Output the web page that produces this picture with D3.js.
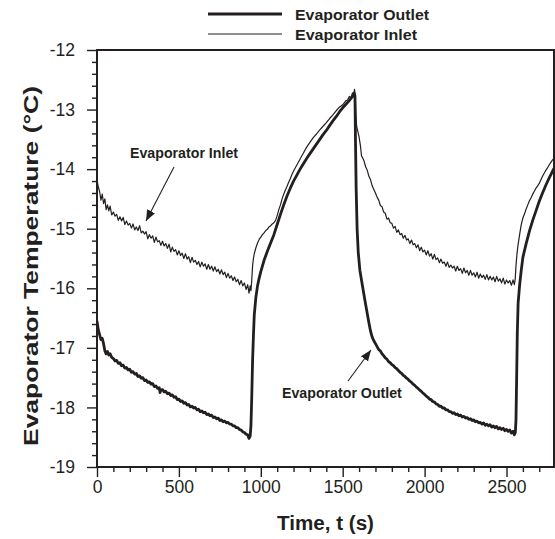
<!DOCTYPE html>
<html><head><meta charset="utf-8">
<script src="https://cdn.jsdelivr.net/npm/d3@7"></script>
<style>
html,body{margin:0;padding:0;background:#fff;}
svg{display:block;font-family:"Liberation Sans",Arial,sans-serif;}
</style></head>
<body><svg id="c" width="555" height="539"></svg>
<script>
const xTicks = [0,500,1000,1500,2000,2500];
const yTicks = [-12,-13,-14,-15,-16,-17,-18,-19];
const seriesNames = ["Evaporator Outlet","Evaporator Inlet"];

const inletPoints = [[0,-14.18],[8,-14.30],[16,-14.38],[24,-14.52],[32,-14.42],[40,-14.58],[48,-14.50],[56,-14.68],[64,-14.60],[72,-14.70],[80,-14.62],[90,-14.77],[100,-14.72],[110,-14.79],[120,-14.76],[130,-14.86],[140,-14.80],[150,-14.87],[160,-14.81],[170,-14.93],[180,-14.87],[190,-14.94],[200,-14.91],[210,-14.99],[220,-14.92],[230,-15.02],[240,-14.97],[250,-15.03],[260,-14.95],[270,-15.07],[280,-15.04],[290,-15.09],[300,-15.05],[310,-15.17],[320,-15.10],[330,-15.16],[340,-15.12],[350,-15.23],[360,-15.14],[370,-15.22],[380,-15.20],[390,-15.28],[400,-15.21],[410,-15.29],[420,-15.25],[430,-15.33],[440,-15.26],[450,-15.39],[460,-15.31],[470,-15.38],[480,-15.35],[490,-15.44],[500,-15.37],[510,-15.45],[520,-15.41],[530,-15.50],[540,-15.42],[550,-15.51],[560,-15.47],[570,-15.57],[580,-15.48],[590,-15.56],[600,-15.53],[610,-15.60],[620,-15.55],[630,-15.64],[640,-15.56],[650,-15.63],[660,-15.59],[670,-15.68],[680,-15.60],[690,-15.68],[700,-15.63],[710,-15.71],[720,-15.64],[730,-15.72],[740,-15.68],[750,-15.76],[760,-15.69],[770,-15.77],[780,-15.73],[790,-15.82],[800,-15.75],[810,-15.83],[820,-15.79],[830,-15.87],[840,-15.81],[850,-15.89],[860,-15.85],[870,-15.94],[880,-15.87],[890,-15.96],[900,-15.91],[910,-16.02],[920,-15.94],[928,-16.08],[935,-15.96],[940,-16.04],[945,-15.85],[950,-15.62],[955,-15.50],[960,-15.42],[970,-15.32],[980,-15.24],[990,-15.18],[1000,-15.14],[1010,-15.10],[1020,-15.07],[1030,-15.03],[1040,-15.01],[1050,-14.97],[1060,-14.95],[1070,-14.92],[1080,-14.90],[1090,-14.86],[1100,-14.78],[1110,-14.68],[1120,-14.60],[1130,-14.50],[1140,-14.42],[1150,-14.35],[1160,-14.29],[1170,-14.22],[1180,-14.16],[1190,-14.09],[1200,-14.03],[1220,-13.93],[1240,-13.83],[1260,-13.73],[1280,-13.63],[1300,-13.55],[1320,-13.47],[1340,-13.41],[1360,-13.34],[1380,-13.28],[1400,-13.22],[1420,-13.15],[1440,-13.09],[1460,-13.02],[1480,-12.96],[1500,-12.92],[1520,-12.85],[1530,-12.84],[1540,-12.78],[1550,-12.80],[1560,-12.72],[1566,-12.76],[1572,-12.66],[1576,-12.74],[1580,-13.05],[1585,-13.28],[1592,-13.36],[1600,-13.46],[1608,-13.60],[1615,-13.78],[1620,-13.80],[1630,-13.86],[1640,-13.96],[1650,-14.02],[1660,-14.12],[1670,-14.18],[1680,-14.28],[1690,-14.34],[1700,-14.40],[1710,-14.47],[1720,-14.52],[1730,-14.61],[1740,-14.63],[1750,-14.72],[1760,-14.74],[1770,-14.84],[1780,-14.82],[1790,-14.90],[1800,-14.91],[1810,-14.99],[1820,-14.96],[1830,-15.06],[1840,-15.02],[1850,-15.10],[1860,-15.08],[1870,-15.16],[1880,-15.11],[1890,-15.19],[1900,-15.17],[1910,-15.25],[1920,-15.19],[1930,-15.27],[1940,-15.25],[1950,-15.32],[1960,-15.27],[1970,-15.37],[1980,-15.31],[1990,-15.39],[2000,-15.36],[2010,-15.44],[2020,-15.37],[2030,-15.46],[2040,-15.42],[2050,-15.51],[2060,-15.43],[2070,-15.52],[2080,-15.49],[2090,-15.57],[2100,-15.51],[2110,-15.58],[2120,-15.56],[2130,-15.63],[2140,-15.56],[2150,-15.65],[2160,-15.61],[2170,-15.66],[2180,-15.63],[2190,-15.71],[2200,-15.63],[2210,-15.70],[2220,-15.67],[2230,-15.75],[2240,-15.66],[2250,-15.74],[2260,-15.70],[2270,-15.78],[2280,-15.70],[2290,-15.78],[2300,-15.74],[2310,-15.81],[2320,-15.73],[2330,-15.83],[2340,-15.76],[2350,-15.82],[2360,-15.78],[2370,-15.85],[2380,-15.77],[2390,-15.86],[2400,-15.80],[2410,-15.86],[2420,-15.81],[2430,-15.89],[2440,-15.80],[2450,-15.88],[2460,-15.84],[2470,-15.91],[2480,-15.83],[2490,-15.93],[2500,-15.86],[2510,-15.91],[2520,-15.87],[2530,-15.95],[2540,-15.86],[2548,-15.94],[2553,-15.85],[2558,-15.62],[2564,-15.42],[2570,-15.28],[2580,-15.10],[2590,-14.93],[2600,-14.82],[2610,-14.75],[2620,-14.67],[2630,-14.60],[2640,-14.53],[2650,-14.48],[2660,-14.42],[2670,-14.37],[2680,-14.32],[2690,-14.28],[2700,-14.24],[2710,-14.18],[2720,-14.12],[2730,-14.07],[2740,-14.02],[2750,-13.98],[2760,-13.93],[2770,-13.89],[2780,-13.85],[2790,-13.82]];

const outletPoints = [[0,-16.55],[8,-16.70],[16,-16.78],[24,-16.86],[32,-16.84],[40,-16.93],[48,-17.05],[56,-17.10],[64,-17.06],[72,-17.12],[80,-17.10],[90,-17.16],[100,-17.18],[110,-17.22],[120,-17.21],[130,-17.26],[140,-17.25],[150,-17.30],[160,-17.29],[170,-17.34],[180,-17.33],[190,-17.37],[200,-17.36],[210,-17.41],[220,-17.40],[230,-17.44],[240,-17.43],[250,-17.48],[260,-17.47],[270,-17.51],[280,-17.50],[290,-17.55],[300,-17.54],[310,-17.58],[320,-17.57],[330,-17.61],[340,-17.60],[350,-17.65],[360,-17.64],[370,-17.68],[380,-17.67],[385,-17.75],[390,-17.71],[400,-17.70],[410,-17.74],[420,-17.73],[430,-17.77],[440,-17.76],[450,-17.80],[460,-17.79],[470,-17.83],[480,-17.82],[490,-17.87],[500,-17.86],[510,-17.90],[520,-17.89],[530,-17.93],[540,-17.92],[550,-17.96],[560,-17.95],[570,-17.99],[580,-17.98],[590,-18.01],[600,-18.00],[610,-18.04],[620,-18.03],[630,-18.07],[640,-18.06],[650,-18.09],[660,-18.08],[670,-18.12],[680,-18.11],[690,-18.14],[700,-18.13],[710,-18.17],[720,-18.16],[730,-18.19],[740,-18.18],[750,-18.22],[760,-18.21],[770,-18.24],[780,-18.23],[790,-18.26],[800,-18.25],[810,-18.28],[820,-18.28],[830,-18.31],[840,-18.31],[850,-18.34],[860,-18.34],[870,-18.37],[880,-18.38],[890,-18.41],[900,-18.42],[910,-18.45],[920,-18.46],[928,-18.52],[935,-18.48],[940,-18.30],[945,-17.80],[950,-17.20],[955,-16.80],[960,-16.45],[970,-16.15],[980,-15.96],[990,-15.83],[1000,-15.72],[1020,-15.53],[1040,-15.38],[1060,-15.24],[1080,-15.10],[1100,-14.93],[1120,-14.76],[1140,-14.60],[1160,-14.45],[1180,-14.32],[1200,-14.20],[1220,-14.10],[1240,-14.00],[1260,-13.91],[1280,-13.82],[1300,-13.74],[1320,-13.66],[1340,-13.58],[1360,-13.50],[1380,-13.42],[1400,-13.35],[1420,-13.27],[1440,-13.19],[1460,-13.12],[1480,-13.04],[1500,-12.97],[1520,-12.91],[1540,-12.85],[1560,-12.78],[1570,-12.73],[1575,-12.78],[1578,-13.50],[1582,-14.30],[1588,-15.00],[1595,-15.40],[1605,-15.70],[1620,-15.95],[1640,-16.27],[1660,-16.58],[1670,-16.72],[1680,-16.82],[1690,-16.88],[1700,-16.93],[1710,-16.98],[1720,-17.03],[1730,-17.05],[1740,-17.10],[1750,-17.13],[1760,-17.17],[1770,-17.19],[1780,-17.23],[1790,-17.25],[1800,-17.28],[1810,-17.30],[1820,-17.33],[1830,-17.35],[1840,-17.38],[1850,-17.41],[1860,-17.43],[1870,-17.46],[1880,-17.48],[1890,-17.51],[1900,-17.53],[1910,-17.56],[1920,-17.58],[1930,-17.61],[1940,-17.63],[1950,-17.66],[1960,-17.68],[1970,-17.71],[1980,-17.73],[1990,-17.76],[2000,-17.78],[2010,-17.81],[2020,-17.83],[2030,-17.86],[2040,-17.87],[2050,-17.90],[2060,-17.91],[2070,-17.94],[2080,-17.95],[2090,-17.98],[2100,-17.98],[2110,-18.01],[2120,-18.01],[2130,-18.04],[2140,-18.04],[2150,-18.07],[2160,-18.07],[2170,-18.10],[2180,-18.09],[2190,-18.12],[2200,-18.11],[2210,-18.14],[2220,-18.13],[2230,-18.16],[2240,-18.15],[2250,-18.18],[2260,-18.17],[2270,-18.20],[2280,-18.19],[2290,-18.22],[2300,-18.21],[2310,-18.24],[2320,-18.23],[2330,-18.26],[2340,-18.25],[2350,-18.28],[2360,-18.26],[2370,-18.30],[2380,-18.28],[2390,-18.31],[2400,-18.29],[2410,-18.33],[2420,-18.31],[2430,-18.34],[2440,-18.32],[2450,-18.36],[2460,-18.34],[2470,-18.37],[2480,-18.35],[2490,-18.39],[2500,-18.37],[2510,-18.40],[2520,-18.38],[2530,-18.43],[2540,-18.40],[2548,-18.46],[2554,-18.42],[2558,-18.20],[2562,-17.50],[2566,-16.75],[2571,-16.25],[2580,-15.95],[2590,-15.70],[2600,-15.48],[2620,-15.25],[2640,-15.04],[2660,-14.86],[2680,-14.70],[2700,-14.54],[2720,-14.40],[2740,-14.27],[2760,-14.15],[2780,-14.04],[2790,-13.99]];

const svg = d3.select("#c");
const M = {left:97, right:554, top:50, bottom:467};
const x = d3.scaleLinear().domain([0,2790]).range([M.left,M.right]);
const y = d3.scaleLinear().domain([-19,-12]).range([M.bottom,M.top]);
const ink = "#231f20";
const FONT = "Liberation Sans, Arial, sans-serif";

svg.append("defs").append("marker").attr("id","ah").attr("viewBox","0 0 10 10")
  .attr("refX",10).attr("refY",5).attr("markerWidth",11).attr("markerHeight",11)
  .attr("markerUnits","userSpaceOnUse").attr("orient","auto")
  .append("path").attr("d","M0,1 L10,5 L0,9 z").attr("fill",ink);

const line = d3.line().x(d=>x(d[0])).y(d=>y(d[1]));
svg.append("clipPath").attr("id","pc").append("rect")
  .attr("x",M.left).attr("y",M.top).attr("width",M.right-M.left).attr("height",M.bottom-M.top);
const g = svg.append("g").attr("clip-path","url(#pc)");
g.append("path").datum(inletPoints).attr("d",line).attr("fill","none").attr("stroke",ink).attr("stroke-width",1.2).attr("stroke-linejoin","round");
g.append("path").datum(outletPoints).attr("d",line).attr("fill","none").attr("stroke",ink).attr("stroke-width",2.8).attr("stroke-linejoin","round");

// axes: ticks
const gx = svg.append("g").attr("transform",`translate(0,${M.bottom})`)
  .call(d3.axisBottom(x).tickValues(d3.range(0,2790,100)).tickSize(5).tickFormat(""));
gx.selectAll(".tick line").filter(d=>d%500===0).attr("y2",10);
const gxl = svg.append("g").attr("transform",`translate(0,${M.bottom})`)
  .call(d3.axisBottom(x).tickValues(xTicks).tickSize(0).tickPadding(14).tickFormat(d3.format("d")));
const gy = svg.append("g").attr("transform",`translate(${M.left},0)`)
  .call(d3.axisLeft(y).tickValues(d3.range(-19,-11.99,0.2).map(v=>+v.toFixed(1))).tickSize(5).tickFormat(""));
gy.selectAll(".tick line").filter(d=>Math.abs(d-Math.round(d))<1e-6).attr("x2",-10);
const gyl = svg.append("g").attr("transform",`translate(${M.left},0)`)
  .call(d3.axisLeft(y).tickValues(yTicks).tickSize(0).tickPadding(22).tickFormat(d=>d));
[gx,gy,gxl,gyl].forEach(a=>a.select(".domain").remove());
[gx,gy].forEach(a=>a.selectAll("line").attr("stroke",ink).attr("stroke-width",1.4));
[gxl,gyl].forEach(a=>a.selectAll("text").attr("font-size",17.5).attr("fill",ink).attr("font-family",FONT));

svg.append("rect").attr("x",M.left).attr("y",M.top).attr("width",M.right-M.left).attr("height",M.bottom-M.top)
  .attr("fill","none").attr("stroke",ink).attr("stroke-width",2);

// axis titles
svg.append("text").attr("x",(M.left+M.right)/2).attr("y",530).attr("text-anchor","middle")
  .attr("font-size",19.5).attr("font-weight","bold").attr("fill",ink)
  .attr("textLength",97).attr("lengthAdjust","spacingAndGlyphs").text("Time, t (s)");
svg.append("text").attr("transform",`translate(38,266) rotate(-90)`).attr("text-anchor","middle")
  .attr("font-size",20).attr("font-weight","bold").attr("fill",ink)
  .attr("textLength",360).attr("lengthAdjust","spacingAndGlyphs").text("Evaporator Temperature (°C)");

// legend
const leg = svg.append("g");
[[14,3,seriesNames[0]],[34,1.2,seriesNames[1]]].forEach(([ly,sw,name])=>{
  leg.append("line").attr("x1",208).attr("x2",282).attr("y1",ly).attr("y2",ly).attr("stroke",ink).attr("stroke-width",sw);
  leg.append("text").attr("x",295).attr("y",ly+5.5).attr("font-size",15.5).attr("font-weight","bold").attr("fill",ink)
    .attr("textLength",name.length>16?134:122).attr("lengthAdjust","spacingAndGlyphs").text(name);
});

// annotations
svg.append("text").attr("x",130).attr("y",158).attr("font-size",14.2).attr("font-weight","bold").attr("fill",ink).text("Evaporator Inlet");
svg.append("line").attr("x1",174).attr("y1",167).attr("x2",146).attr("y2",221).attr("stroke",ink).attr("stroke-width",1.1).attr("marker-end","url(#ah)");
svg.append("text").attr("x",282).attr("y",398).attr("font-size",14.2).attr("font-weight","bold").attr("fill",ink).text("Evaporator Outlet");
svg.append("line").attr("x1",348).attr("y1",381).attr("x2",371).attr("y2",350).attr("stroke",ink).attr("stroke-width",1.1).attr("marker-end","url(#ah)");
</script></body></html>
